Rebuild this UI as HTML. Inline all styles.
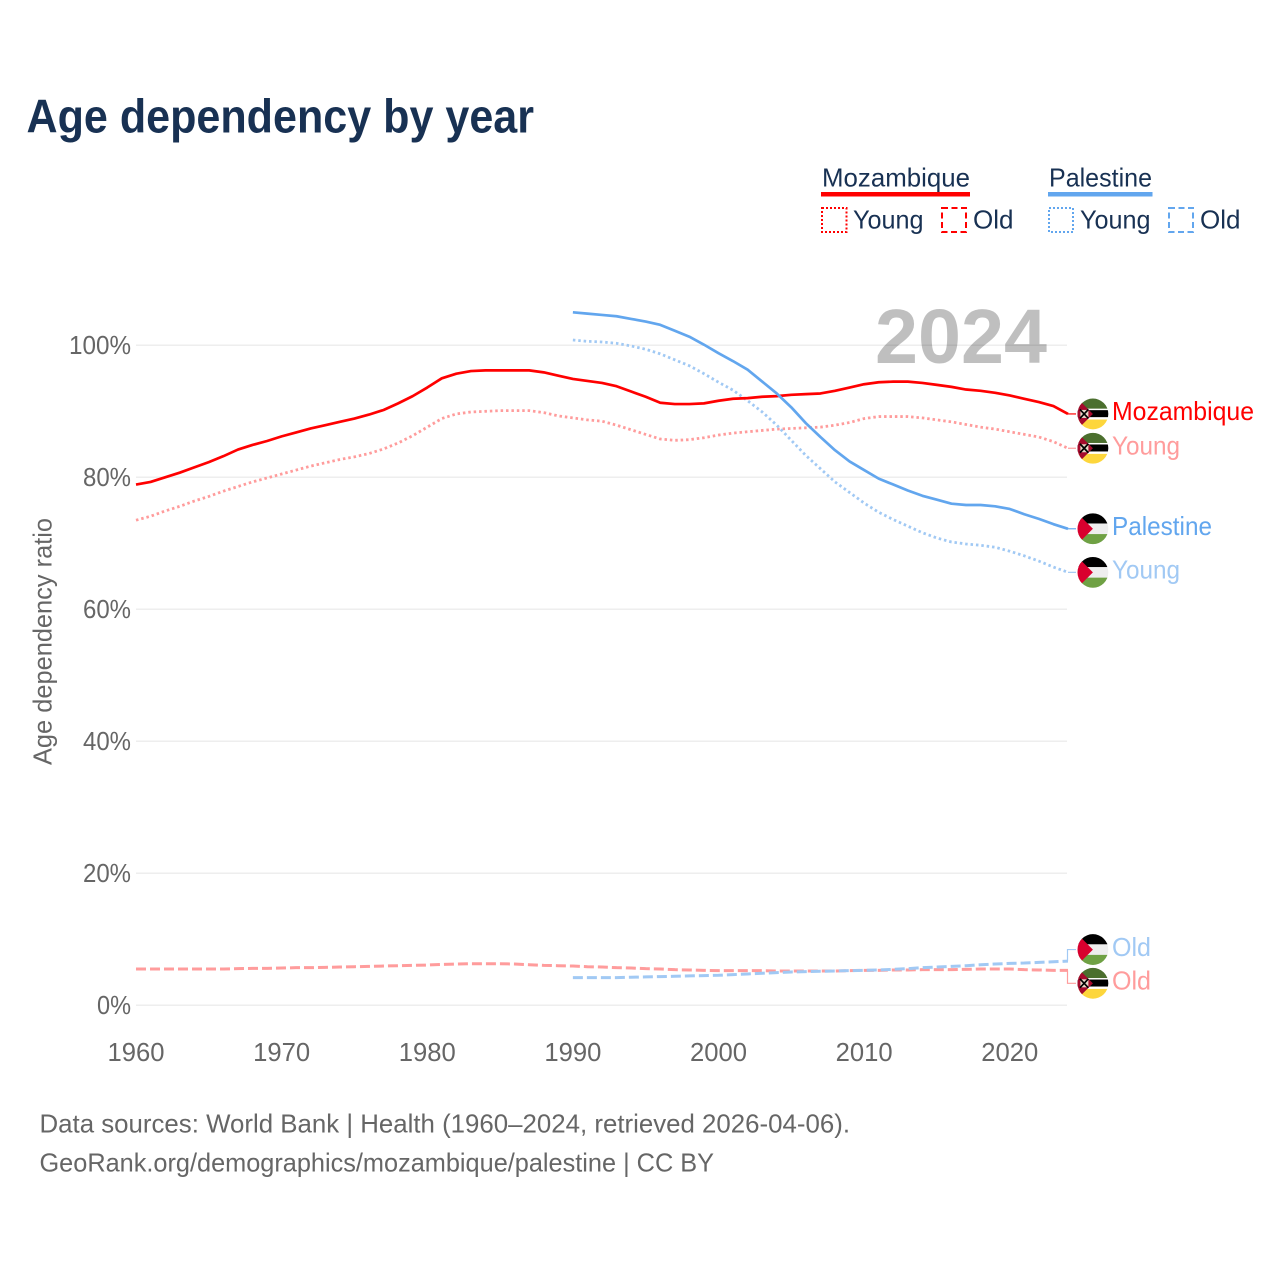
<!DOCTYPE html>
<html lang="en">
<head>
<meta charset="utf-8">
<title>Age dependency by year</title>
<style>
html,body{margin:0;padding:0;background:#fff;}
svg{display:block;font-family:"Liberation Sans",sans-serif;}
</style>
</head>
<body>
<svg id="chart" xmlns="http://www.w3.org/2000/svg" width="1280" height="1280" viewBox="0 0 1280 1280">
  <defs>
    <clipPath id="flag-clip"><circle cx="0" cy="0" r="15.4"/></clipPath>
    <g id="flag-mozambique" clip-path="url(#flag-clip)">
      <rect x="-16" y="-16" width="32" height="32" fill="#fff"/>
      <rect x="-16" y="-16" width="32" height="10.7" fill="#4b6f2e"/>
      <rect x="-16" y="-3.8" width="32" height="7" fill="#000"/>
      <rect x="-16" y="5.6" width="32" height="10.4" fill="#fdd63c"/>
      <polygon points="-16,-16 0,0 -16,16" fill="#a50a2c"/>
      <rect x="-12.5" y="-4" width="8" height="8" fill="#e8d8c8"/>
      <path d="M-13,-4.5 L-4.5,4.5 M-4.5,-4.5 L-13,4.5" stroke="#000" stroke-width="1.7"/>
    </g>
    <g id="flag-palestine" clip-path="url(#flag-clip)">
      <rect x="-16" y="-16" width="32" height="32" fill="#eeeeee"/>
      <rect x="-16" y="-16" width="32" height="10.7" fill="#000"/>
      <rect x="-16" y="5.3" width="32" height="10.7" fill="#6fa144"/>
      <polygon points="-16,-16 0,0 -16,16" fill="#d9002e"/>
    </g>
  </defs>

  <text x="26.5" y="132.5" font-size="47" font-weight="700" fill="#183153" textLength="507.5" lengthAdjust="spacingAndGlyphs">Age dependency by year</text>

  <g>
    <g>
      <text x="822" y="186.3" font-size="26" fill="#183153" textLength="148" lengthAdjust="spacingAndGlyphs">Mozambique</text>
      <rect x="821" y="192" width="149" height="4.5" fill="#ff0000"/>
      <rect x="822" y="208" width="24.5" height="24" fill="none" stroke="#ff0000" stroke-width="2" stroke-dasharray="2 2"/>
      <text x="853" y="228.3" font-size="26" fill="#183153" textLength="70.5" lengthAdjust="spacingAndGlyphs">Young</text>
      <rect x="942" y="208" width="24" height="24" fill="none" stroke="#ff0000" stroke-width="2" stroke-dasharray="6 3.5"/>
      <text x="973" y="228.3" font-size="26" fill="#183153" textLength="40.5" lengthAdjust="spacingAndGlyphs">Old</text>
    </g>
    <g>
      <text x="1049" y="186.3" font-size="26" fill="#183153" textLength="103" lengthAdjust="spacingAndGlyphs">Palestine</text>
      <rect x="1048" y="192" width="104.5" height="4.5" fill="#62a6ee"/>
      <rect x="1049" y="208" width="24" height="24" fill="none" stroke="#62a6ee" stroke-width="2" stroke-dasharray="2 2"/>
      <text x="1080" y="228.3" font-size="26" fill="#183153" textLength="70.5" lengthAdjust="spacingAndGlyphs">Young</text>
      <rect x="1169" y="208" width="24" height="24" fill="none" stroke="#62a6ee" stroke-width="2" stroke-dasharray="6 3.5"/>
      <text x="1200" y="228.3" font-size="26" fill="#183153" textLength="40.5" lengthAdjust="spacingAndGlyphs">Old</text>
    </g>
  </g>

  <g id="grid"></g>
  <g id="y-ticks"></g>
  <g id="x-ticks"></g>
  <text transform="translate(51.5,641.5) rotate(-90)" text-anchor="middle" font-size="26" fill="#666666" textLength="247" lengthAdjust="spacingAndGlyphs">Age dependency ratio</text>
  <g id="series"></g>
  <text x="875" y="363" font-size="77" font-weight="700" fill="#000000" fill-opacity="0.25" textLength="172" lengthAdjust="spacingAndGlyphs">2024</text>
  <g id="end-labels"></g>

  <text x="39.5" y="1132.4" font-size="26" fill="#666666" textLength="810.5" lengthAdjust="spacingAndGlyphs">Data sources: World Bank | Health (1960–2024, retrieved 2026-04-06).</text>
  <text x="39.5" y="1171.4" font-size="26" fill="#666666" textLength="674.5" lengthAdjust="spacingAndGlyphs">GeoRank.org/demographics/mozambique/palestine | CC BY</text>
</svg>

<script>
// ---- chart data ----
const yTickValues = [0, 20, 40, 60, 80, 100];
const xTickValues = [1960, 1970, 1980, 1990, 2000, 2010, 2020];
const mozambiqueStartYear = 1960;
const palestineStartYear = 1990;
const mozambiqueTotal = [78.9,79.3,80.0,80.7,81.5,82.3,83.2,84.2,84.9,85.5,86.2,86.8,87.4,87.9,88.4,88.9,89.5,90.2,91.2,92.3,93.6,95.0,95.7,96.1,96.2,96.2,96.2,96.2,95.9,95.4,94.9,94.6,94.3,93.8,93.0,92.2,91.3,91.1,91.1,91.2,91.6,91.9,92.0,92.2,92.3,92.5,92.6,92.7,93.1,93.6,94.1,94.4,94.5,94.5,94.3,94.0,93.7,93.3,93.1,92.8,92.4,91.9,91.4,90.8,89.6];
const mozambiqueYoung = [73.5,74.1,74.9,75.6,76.4,77.1,77.9,78.6,79.3,79.9,80.5,81.1,81.7,82.2,82.7,83.1,83.6,84.3,85.2,86.3,87.6,88.9,89.6,89.9,90.0,90.1,90.1,90.1,89.8,89.3,89.0,88.7,88.5,87.9,87.2,86.5,85.8,85.6,85.7,86.0,86.4,86.7,86.9,87.1,87.3,87.4,87.5,87.6,87.9,88.3,88.9,89.2,89.2,89.2,89.0,88.7,88.4,88.0,87.6,87.3,86.9,86.5,86.1,85.4,84.4];
const mozambiqueOld = [5.5,5.5,5.5,5.5,5.5,5.5,5.5,5.55,5.6,5.6,5.65,5.7,5.7,5.75,5.8,5.85,5.9,5.95,6.0,6.05,6.1,6.2,6.25,6.3,6.3,6.3,6.25,6.15,6.05,6.0,5.95,5.85,5.8,5.7,5.65,5.55,5.5,5.4,5.35,5.3,5.25,5.25,5.25,5.25,5.2,5.2,5.2,5.2,5.2,5.25,5.3,5.3,5.35,5.35,5.4,5.4,5.4,5.45,5.5,5.5,5.5,5.4,5.35,5.3,5.3];
const palestineTotal = [105.0,104.8,104.6,104.4,104.0,103.6,103.1,102.2,101.3,100.1,98.8,97.6,96.3,94.5,92.7,90.6,88.2,86.1,84.1,82.4,81.1,79.8,78.9,78.0,77.2,76.6,76.0,75.8,75.8,75.6,75.2,74.4,73.7,72.9,72.2];
const palestineYoung = [100.8,100.6,100.5,100.3,99.9,99.4,98.7,97.8,96.9,95.7,94.4,93.2,91.6,89.9,87.9,85.6,83.3,81.3,79.3,77.7,76.1,74.7,73.6,72.6,71.6,70.8,70.2,69.9,69.7,69.4,68.8,68.1,67.3,66.4,65.6];
const palestineOld = [4.2,4.2,4.2,4.2,4.25,4.3,4.35,4.4,4.45,4.5,4.55,4.65,4.75,4.85,4.95,5.05,5.1,5.15,5.2,5.25,5.3,5.35,5.45,5.55,5.7,5.8,5.9,6.0,6.15,6.25,6.35,6.4,6.5,6.6,6.7];

// ---- axis functions ----
function xScale(year) { return 136 + (year - 1960) * (1068 - 136) / 64; }
function yScale(pct) { return 1005.3 - pct * 6.6; }

const NS = 'http://www.w3.org/2000/svg';
function make(tag, parent, attrs) {
  const el = document.createElementNS(NS, tag);
  Object.keys(attrs).forEach(function (k) { el.setAttribute(k, attrs[k]); });
  parent.appendChild(el);
  return el;
}

// ---- grid and ticks ----
const gridGroup = document.getElementById('grid');
const yTickGroup = document.getElementById('y-ticks');
const xTickGroup = document.getElementById('x-ticks');

yTickValues.forEach(function (v) {
  const line = make('line', gridGroup, {x1: 136, x2: 1067, y1: yScale(v), y2: yScale(v), stroke: '#eeeeee', 'stroke-width': 1.5});
  
  
  const label = v + '%';
  const tick = make('text', yTickGroup, {x: 131, y: yScale(v) + 8.5, 'text-anchor': 'end', 'font-size': 26, fill: '#666666', textLength: v === 100 ? 62 : (v === 0 ? 34 : 48), lengthAdjust: 'spacingAndGlyphs'});
  tick.textContent = label;
  
  
});

xTickValues.forEach(function (yr) {
  const tick = make('text', xTickGroup, {x: xScale(yr), y: 1061, 'text-anchor': 'middle', 'font-size': 26, fill: '#666666', textLength: 57, lengthAdjust: 'spacingAndGlyphs'});
  tick.textContent = String(yr);
  
  
});

// ---- series lines ----
const seriesGroup = document.getElementById('series');
function linePath(values, startYear) {
  return values.map(function (v, i) {
    return (i ? 'L' : 'M') + xScale(startYear + i).toFixed(2) + ' ' + yScale(v).toFixed(2);
  }).join(' ');
}
function drawLine(values, startYear, color, dash, width) {
  const attrs = {d: linePath(values, startYear), fill: 'none', stroke: color, 'stroke-width': width, 'stroke-linejoin': 'round'};
  if (dash) { attrs['stroke-dasharray'] = dash; }
  return make('path', seriesGroup, attrs);
}

const mozOldLine = drawLine(mozambiqueOld, mozambiqueStartYear, '#ff9c9c', '10 4', 3);


const palOldLine = drawLine(palestineOld, palestineStartYear, '#a1c9f4', '10 4', 3);


const mozYoungLine = drawLine(mozambiqueYoung, mozambiqueStartYear, '#ff9c9c', '2.5 2.9', 2.8);


const palYoungLine = drawLine(palestineYoung, palestineStartYear, '#a1c9f4', '2.5 2.9', 2.8);


const mozTotalLine = drawLine(mozambiqueTotal, mozambiqueStartYear, '#ff0000', null, 2.7);


const palTotalLine = drawLine(palestineTotal, palestineStartYear, '#62a6ee', null, 2.7);



// ---- end labels with flags and connectors ----
const endGroup = document.getElementById('end-labels');
function drawEnd(values, text, flagId, color, lineColor, textWidth, offset) {
  const endY = yScale(values[values.length - 1]);
  const labelY = endY + offset;
  const g = make('g', endGroup, {});
  const d = offset === 0
    ? 'M1068 ' + endY + ' H1076'
    : 'M1067.5 ' + endY + ' V' + labelY + ' H1076';
  const conn = make('path', g, {d: d, fill: 'none', stroke: lineColor, 'stroke-width': 1.2});
  
  
  const flag = make('use', g, {href: '#' + flagId, transform: 'translate(1092.9,' + labelY + ')'});
  
  
  const label = make('text', g, {x: 1112, y: labelY + 6.2, 'font-size': 26, fill: color, textLength: textWidth, lengthAdjust: 'spacingAndGlyphs'});
  label.textContent = text;
  
  
  return g;
}

const endMozTotal = drawEnd(mozambiqueTotal, 'Mozambique', 'flag-mozambique', '#ff0000', '#ff0000', 142, 0);


const endMozYoung = drawEnd(mozambiqueYoung, 'Young', 'flag-mozambique', '#ff9c9c', '#ff9c9c', 68, 0);


const endPalTotal = drawEnd(palestineTotal, 'Palestine', 'flag-palestine', '#62a6ee', '#62a6ee', 100, 0);


const endPalYoung = drawEnd(palestineYoung, 'Young', 'flag-palestine', '#a1c9f4', '#a1c9f4', 68, 0);


const endPalOld = drawEnd(palestineOld, 'Old', 'flag-palestine', '#a1c9f4', '#a1c9f4', 39, -11.5);


const endMozOld = drawEnd(mozambiqueOld, 'Old', 'flag-mozambique', '#ff9c9c', '#ff9c9c', 39, 13);


</script>
</body>
</html>
